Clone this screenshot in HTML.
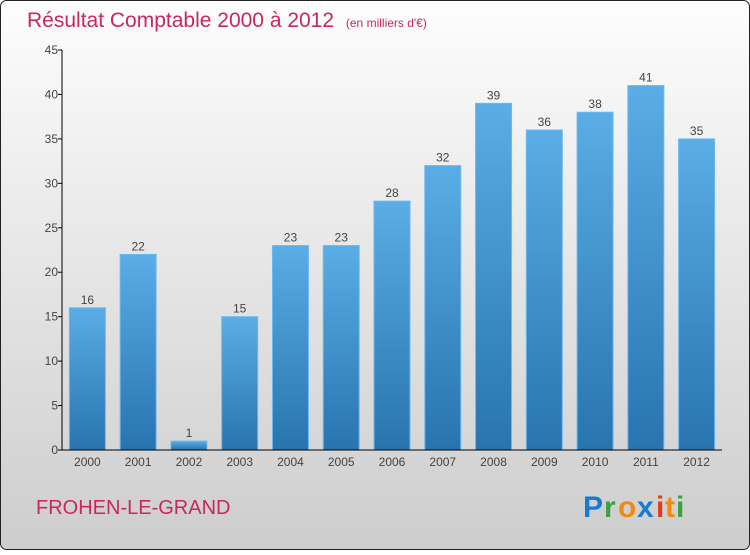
<!DOCTYPE html>
<html><head><meta charset="utf-8"><style>
body{margin:0;width:750px;height:550px;overflow:hidden;font-family:"Liberation Sans",sans-serif}
</style></head><body>
<svg width="750" height="550" viewBox="0 0 750 550">
<defs>
<linearGradient id="bg" x1="0" y1="0" x2="0" y2="1"><stop offset="0" stop-color="#fdfdfd"/><stop offset="1" stop-color="#cdcdcd"/></linearGradient>
<linearGradient id="bar" x1="0" y1="0" x2="0" y2="1"><stop offset="0" stop-color="#5aade6"/><stop offset="1" stop-color="#2874b0"/></linearGradient>
</defs>
<rect x="0.5" y="0.5" width="749" height="549" rx="6" fill="url(#bg)" stroke="#222"/>
<text x="27" y="27" font-size="21" fill="#c8285a">Résultat Comptable 2000 à 2012 <tspan font-size="12" dx="6">(en milliers d'€)</tspan></text>
<g id="yaxis"></g>
<g id="bars"></g>
<g id="xaxis"></g>
<text x="36" y="514" font-size="20" fill="#c8285a">FROHEN-LE-GRAND</text>
<g font-size="30" font-weight="bold">
<text x="583" y="517" fill="#1a7ad0">P</text><text x="604" y="517" fill="#3aa040">r</text><text x="618" y="517" fill="#f08a10">o</text><text x="637" y="517" fill="#1a7ad0">x</text><text x="656" y="517" fill="#e03a20">i</text><text x="665" y="517" fill="#f08a10">t</text><text x="676" y="517" fill="#3aa040">i</text>
</g>
</svg>
<script>
const categories=["2000","2001","2002","2003","2004","2005","2006","2007","2008","2009","2010","2011","2012"];
const values=[16,22,1,15,23,23,28,32,39,36,38,41,35];
const yTicks=[0,5,10,15,20,25,30,35,40,45];
const NS="http://www.w3.org/2000/svg";
const x0=62,x1=722,yB=450,yT=50,yMax=45;
const step=(x1-x0)/categories.length;
const y=v=>yB-(v/yMax)*(yB-yT);
const cx=i=>x0+step*(i+0.5);
function mk(t,a,p){const e=document.createElementNS(NS,t);for(const k in a)e.setAttribute(k,a[k]);p.appendChild(e);return e;}
const ya=document.getElementById('yaxis'),ba=document.getElementById('bars'),xa=document.getElementById('xaxis');
mk('line',{x1:x0,y1:yT,x2:x0,y2:yB,stroke:'#000'},ya);
yTicks.forEach(t=>{
 const l=mk('line',{x1:x0-4,y1:y(t),x2:x0,y2:y(t),stroke:'#000'},ya);
 
 
 const tx=mk('text',{x:x0-4,y:y(t)+4,'text-anchor':'end','font-size':12,fill:'#444'},ya);
 tx.textContent=t;
 
 
});
values.forEach((v,i)=>{
 const r=mk('rect',{x:cx(i)-18,y:y(v),width:36,height:yB-y(v),fill:'url(#bar)',stroke:'#6cbaf0','stroke-width':1},ba);
 
 
 const t=mk('text',{x:cx(i),y:y(v)-4,'text-anchor':'middle','font-size':12,fill:'#444'},ba);
 t.textContent=v;
 
 
});
mk('line',{x1:x0,y1:yB,x2:x1,y2:yB,stroke:'#000'},xa);
categories.forEach((c,i)=>{
 const t=mk('text',{x:cx(i),y:466,'text-anchor':'middle','font-size':12,fill:'#444'},xa);
 t.textContent=c;
 
 
});
</script>
</body></html>
